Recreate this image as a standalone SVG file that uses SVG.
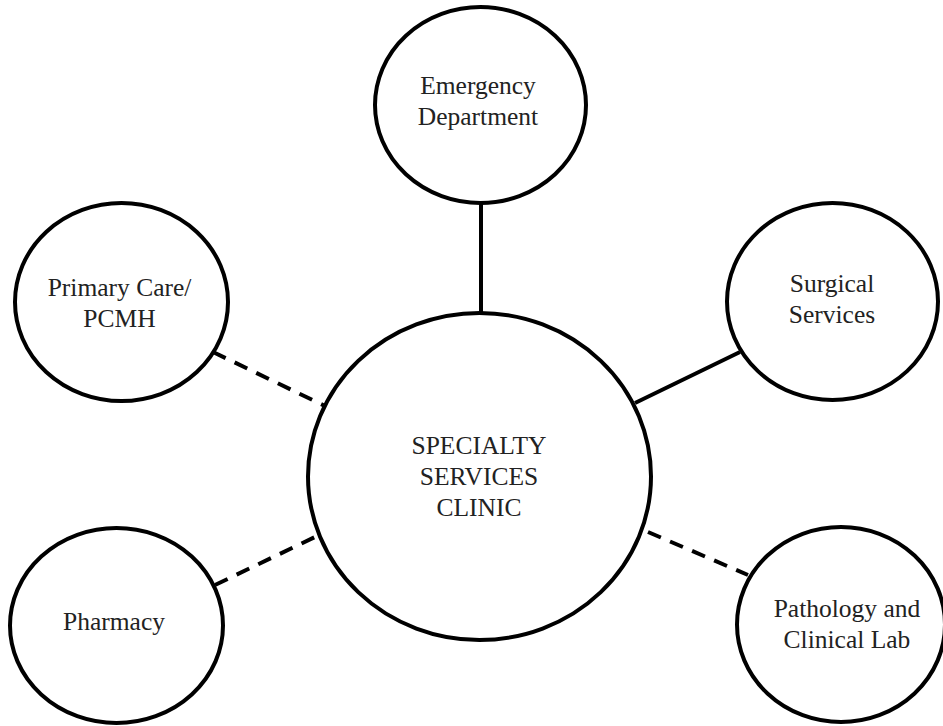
<svg xmlns="http://www.w3.org/2000/svg" width="943" height="726" viewBox="0 0 943 726">
<style>
.node{fill:#fff;stroke:#000;stroke-width:4}
.lbl{font-family:"Liberation Serif","Times New Roman",serif;font-size:25.5px;fill:#222;text-anchor:middle}
.solid{stroke:#000;stroke-width:4;fill:none}
.dash{stroke:#000;stroke-width:4;fill:none;stroke-dasharray:14 10}
</style>
<rect width="943" height="726" fill="#fff"/>
<g id="connectors">
<line class="solid" x1="481" y1="203" x2="481" y2="313"/>
<line class="solid" x1="740" y1="352" x2="635" y2="403"/>
<line class="dash" x1="213" y1="352" x2="325" y2="406"/>
<line class="dash" x1="215" y1="585" x2="315" y2="537"/>
<line class="dash" x1="648" y1="532" x2="748" y2="575"/>
</g>
<g id="center">
<ellipse class="node" cx="479.5" cy="476.5" rx="171.5" ry="163.5"/>
<text class="lbl" x="479" y="454">SPECIALTY</text>
<text class="lbl" x="479" y="485">SERVICES</text>
<text class="lbl" x="479" y="516">CLINIC</text>
</g>
<g id="emergency">
<ellipse class="node" cx="480.5" cy="105" rx="105.5" ry="98"/>
<text class="lbl" x="478" y="94">Emergency</text>
<text class="lbl" x="478" y="125">Department</text>
</g>
<g id="primary">
<ellipse class="node" cx="121.5" cy="302" rx="106.5" ry="99"/>
<text class="lbl" x="119.5" y="296">Primary Care/</text>
<text class="lbl" x="119.5" y="327">PCMH</text>
</g>
<g id="surgical">
<ellipse class="node" cx="832.5" cy="301.5" rx="105.5" ry="98.5"/>
<text class="lbl" x="832" y="292">Surgical</text>
<text class="lbl" x="832" y="323">Services</text>
</g>
<g id="pharmacy">
<ellipse class="node" cx="116.5" cy="625.5" rx="106.5" ry="97.5"/>
<text class="lbl" x="114" y="630">Pharmacy</text>
</g>
<g id="pathology">
<ellipse class="node" cx="841" cy="624.5" rx="104" ry="97.5"/>
<text class="lbl" x="847" y="617">Pathology and</text>
<text class="lbl" x="847" y="648">Clinical Lab</text>
</g>
</svg>
